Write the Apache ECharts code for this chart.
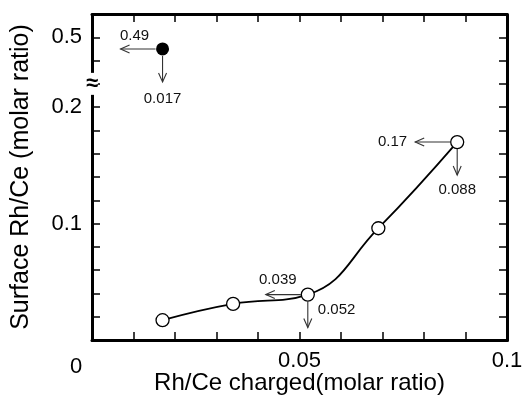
<!DOCTYPE html>
<html>
<head>
<meta charset="utf-8">
<script src="https://cdn.jsdelivr.net/npm/echarts@6/dist/echarts.min.js"></script>
<style>
  html, body { margin: 0; padding: 0; background: #fff; }
  #chart { width: 522px; height: 406px; }
</style>
</head>
<body>
<div id="chart"></div>
<script>
// Rh/Ce charged vs surface Rh/Ce (open circles, connected)
var chargedX = [0.017, 0.034, 0.052, 0.069, 0.088];
var surfaceY = [0.017, 0.031, 0.039, 0.096, 0.17];

// filled point above the axis break
var filledX = [0.017];
var filledY = [0.49];

// annotated points: value to the left, value below
var noteX = [0.017, 0.052, 0.088];
var noteY = [0.49, 0.039, 0.17];
var noteLeft = ['0.49', '0.039', '0.17'];
var noteDown = ['0.017', '0.052', '0.088'];

var xTickLabels = [0, 0.05, 0.1];
var yTickLabels = [0.1, 0.2, 0.5];

var FONT = '"Liberation Sans", Arial, Helvetica, sans-serif';

function makeChart(){
	var chart = echarts.init(document.getElementById('chart'), null, {renderer: 'canvas'});

	var lineData = chargedX.map(function(x, i){ return [x, surfaceY[i]]; });
	var filledData = filledX.map(function(x, i){ return [x, filledY[i]]; });
	var noteData = noteX.map(function(x, i){ return [x, noteY[i]]; });

	// label offsets around each annotated point (px)
	var noteLayout = [
		{left: [-28, -13, 'center'], down: [0, 50, 'center']},
		{left: [-30, -15, 'center'], down: [10, 15, 'left']},
		{left: [-50, 0, 'right'],    down: [0, 48, 'center']}
	];

	var yBreaks = [{start: 0.22, end: 0.46, gap: 0}];

	var tickStyle = {show: true, inside: true, length: 8, lineStyle: {color: '#000', width: 1.5}};
	var lineStyle = {show: true, onZero: false, lineStyle: {color: '#000', width: 3}};

	var option = {
		animation: false,
		backgroundColor: '#fff',
		grid: {left: 92, right: 15, top: 14, bottom: 66, containLabel: false, outerBoundsMode: 'none'},
		xAxis: [
			{
				type: 'value', min: 0, max: 0.1, interval: 0.01,
				axisLine: lineStyle, axisTick: tickStyle, splitLine: {show: false},
				name: 'Rh/Ce charged(molar ratio)', nameLocation: 'middle', nameGap: 31,
				nameMoveOverlap: false,
				nameTextStyle: {fontFamily: FONT, fontSize: 24, color: '#000'},
				axisLabel: {
					fontFamily: FONT, fontSize: 22, color: '#000', margin: 10,
					formatter: function(v){
						var r = Math.round(v * 100) / 100;
						if (r === 0) return '{z|0}';
						return xTickLabels.indexOf(r) >= 0 ? String(r) : '';
					},
					rich: {z: {fontFamily: FONT, fontSize: 22, color: '#000', padding: [6, 32, 0, 0]}}
				}
			},
			{
				type: 'value', position: 'top', min: 0, max: 0.1, interval: 0.01,
				axisLine: lineStyle, axisTick: tickStyle, splitLine: {show: false},
				axisLabel: {show: false}
			}
		],
		yAxis: [
			{
				type: 'value', min: 0, max: 0.52, interval: 0.02,
				breaks: yBreaks, breakArea: {show: false},
				axisLine: lineStyle, axisTick: tickStyle, splitLine: {show: false},
				name: 'Surface Rh/Ce (molar ratio)', nameLocation: 'middle', nameGap: 58,
				nameRotate: 90, nameMoveOverlap: false,
				nameTextStyle: {fontFamily: FONT, fontSize: 25, color: '#000'},
				axisLabel: {
					fontFamily: FONT, fontSize: 22, color: '#000', margin: 10,
					formatter: function(v){
						var r = Math.round(v * 100) / 100;
						return yTickLabels.indexOf(r) >= 0 ? String(r) : '';
					}
				}
			},
			{
				type: 'value', position: 'right', min: 0, max: 0.52, interval: 0.02,
				breaks: yBreaks, breakArea: {show: false},
				axisLine: lineStyle, axisTick: tickStyle, splitLine: {show: false},
				axisLabel: {show: false}
			}
		],
		series: [
			{
				type: 'line',
				data: lineData,
				smooth: 0.45,
				symbol: 'circle', symbolSize: 13,
				lineStyle: {color: '#000', width: 1.8},
				itemStyle: {color: '#fff', borderColor: '#000', borderWidth: 1.3},
				z: 3
			},
			{
				type: 'scatter',
				data: filledData,
				symbol: 'circle', symbolSize: 13,
				itemStyle: {color: '#000', opacity: 1},
				z: 3
			},
			{
				type: 'custom',
				data: noteData,
				clip: false,
				z: 4,
				renderItem: function(params, api){
					var p = api.coord([api.value(0), api.value(1)]);
					var i = params.dataIndex;
					var lay = noteLayout[i];
					var x = p[0], y = p[1];
					var stroke = {stroke: '#333', lineWidth: 1.1, fill: null};
					var lx = x - 42, dy = y + 33;
					return {
						type: 'group',
						children: [
							{type: 'polyline', shape: {points: [[x - 7, y], [lx, y]]}, style: stroke},
							{type: 'polyline', shape: {points: [[lx + 9, y - 4], [lx, y], [lx + 9, y + 4]]}, style: stroke},
							{type: 'polyline', shape: {points: [[x, y + 7], [x, dy]]}, style: stroke},
							{type: 'polyline', shape: {points: [[x - 4, dy - 9], [x, dy], [x + 4, dy - 9]]}, style: stroke},
							{type: 'text', x: x + lay.left[0], y: y + lay.left[1],
								style: {text: noteLeft[i], fill: '#111', font: '15px ' + FONT,
									align: lay.left[2], verticalAlign: 'middle'}},
							{type: 'text', x: x + lay.down[0], y: y + lay.down[1],
								style: {text: noteDown[i], fill: '#111', font: '15px ' + FONT,
									align: lay.down[2], verticalAlign: 'middle'}}
						]
					};
				}
			}
		]
	};

	chart.setOption(option);

	// break mark on the left axis
	var bx = chart.convertToPixel({xAxisIndex: 0}, 0);
	var by = chart.convertToPixel({yAxisIndex: 0}, yBreaks[0].start);
	chart.setOption({
		graphic: [{
			type: 'text', x: bx, y: by, z: 10,
			style: {text: '≈', font: 'bold 22px ' + FONT, fill: '#000', align: 'center',
				verticalAlign: 'middle', backgroundColor: '#fff', padding: [0, 0, 0, 0]}
		}]
	});
}

makeChart();
</script>
</body>
</html>
